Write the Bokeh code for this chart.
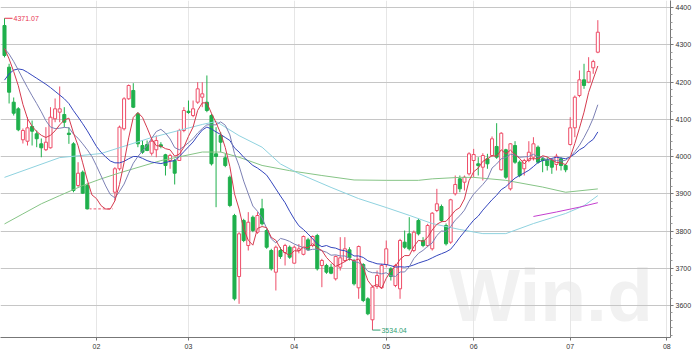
from bokeh.plotting import figure
from bokeh.models import FixedTicker, Range1d, Label, ColumnDataSource
from bokeh.embed import file_html
from bokeh.resources import INLINE

# ---------------- data ----------------
opens = [4351.7, 4239.7, 4145.8, 4128.0, 4044.9, 4041.0, 4080.6, 4061.0, 4034.0, 4018.2,
         4023.4, 4101.2, 4119.0, 4112.8, 4062.6, 4034.0, 3922.2, 3957.8, 3922.2, 3859.4,
         3859.4, 3859.4, 3859.4, 3859.4, 3904.2, 3967.0, 4074.4, 4154.9, 4177.2, 4114.6,
         4029.5, 4032.2, 4008.8, 4018.0, 4031.4, 4004.6, 3989.3, 3989.3, 3989.3, 4069.8,
         4121.6, 4110.1, 4145.8, 4159.2, 4145.8, 4110.1, 4007.2, 4056.4, 3996.5, 3944.4,
         3841.6, 3677.8, 3828.2, 3761.0, 3837.0, 3796.8, 3859.6, 3801.3, 3747.6, 3689.4,
         3747.6, 3742.2, 3756.5, 3713.6, 3747.6, 3737.4, 3776.3, 3761.0, 3787.9, 3707.4,
         3707.4, 3702.8, 3671.6, 3702.8, 3720.8, 3749.4, 3718.9, 3647.5, 3710.1, 3618.0,
         3561.6, 3651.0, 3647.5, 3710.1, 3698.5, 3653.7, 3644.8, 3770.0, 3792.4, 3747.6,
         3828.2, 3774.5, 3761.0, 3752.2, 3855.0, 3865.8, 3814.8, 3770.0, 3899.9, 3940.1,
         3931.0, 3953.5, 3989.3, 3980.4, 3971.3, 3993.8, 4002.7, 4026.9, 3964.3, 4018.0,
         3913.2, 4029.5, 3984.7, 3967.0, 3989.3, 3998.2, 4025.0, 3993.8, 3991.2, 3989.3,
         3978.5, 3993.8, 3975.8, 4032.2, 4077.0, 4163.8, 4205.9, 4199.5, 4238.0, 4280.0]
highs = [4371.07, 4248.9, 4158.4, 4132.4, 4075.2, 4105.5, 4096.6, 4069.8, 4048.3, 4078.7,
         4132.4, 4155.7, 4188.0, 4132.4, 4078.7, 4038.4, 3984.7, 3962.4, 3927.5, 3859.4,
         3859.4, 3859.4, 3859.4, 3859.4, 3971.3, 4083.0, 4159.2, 4193.3, 4196.8, 4118.9,
         4043.0, 4043.0, 4051.8, 4056.4, 4038.4, 4007.2, 4007.2, 3993.8, 4074.4, 4132.4,
         4150.3, 4150.3, 4199.5, 4199.5, 4217.5, 4114.6, 4078.7, 4065.2, 4007.2, 3949.0,
         3846.1, 3796.8, 3832.7, 3850.6, 3841.6, 3850.6, 3886.4, 3805.9, 3752.2, 3761.0,
         3756.5, 3765.6, 3761.0, 3761.0, 3765.0, 3787.9, 3781.7, 3787.9, 3792.4, 3725.3,
         3711.9, 3711.9, 3734.2, 3783.4, 3783.4, 3756.5, 3725.3, 3761.0, 3713.6, 3622.3,
         3653.7, 3693.9, 3711.9, 3774.5, 3702.8, 3711.9, 3779.0, 3801.3, 3837.1, 3801.3,
         3832.7, 3783.4, 3819.3, 3850.6, 3913.2, 3871.1, 3820.1, 3886.4, 3949.0, 3949.0,
         3949.0, 4011.5, 4020.5, 3998.2, 4008.8, 4007.2, 4053.7, 4089.4, 4065.2, 4020.7,
         4035.8, 4041.1, 3989.3, 3993.8, 4041.1, 4051.8, 4029.5, 3998.2, 3998.2, 3993.8,
         4007.2, 3998.2, 3980.4, 4105.5, 4163.8, 4230.9, 4248.9, 4266.6, 4259.6, 4366.0]
lows = [4266.0, 4142.3, 4110.0, 4067.9, 4034.9, 4029.5, 4029.5, 4025.0, 3998.0, 4014.6,
        4021.5, 4092.0, 4092.0, 4078.7, 4034.0, 3904.0, 3917.6, 3899.9, 3858.0, 3859.4,
        3859.4, 3859.4, 3859.4, 3859.4, 3881.9, 3962.4, 4069.8, 4152.2, 4130.0, 4025.0,
        4007.2, 4014.3, 4002.5, 3998.0, 4022.0, 3949.0, 3967.0, 3924.9, 3989.0, 4065.2,
        4114.6, 4105.5, 4141.4, 4132.4, 4118.9, 3975.8, 3863.9, 4011.5, 3971.3, 3863.9,
        3613.4, 3604.5, 3770.0, 3747.6, 3796.8, 3792.4, 3814.8, 3752.2, 3693.9, 3640.3,
        3725.3, 3707.4, 3725.3, 3711.9, 3740.0, 3734.7, 3747.6, 3756.5, 3693.9, 3649.2,
        3685.0, 3684.0, 3667.1, 3693.9, 3716.3, 3720.8, 3653.7, 3618.0, 3609.0, 3574.0,
        3534.04, 3644.8, 3644.8, 3702.8, 3667.1, 3649.2, 3618.0, 3752.2, 3747.6, 3743.1,
        3788.0, 3756.5, 3756.5, 3747.6, 3850.6, 3823.7, 3761.0, 3765.6, 3895.3, 3904.2,
        3908.7, 3949.0, 3944.4, 3949.0, 3935.6, 3967.0, 4000.0, 3993.8, 3962.4, 3940.0,
        3908.7, 3980.4, 3944.4, 3949.0, 3984.7, 3989.3, 3980.4, 3957.8, 3962.4, 3953.5,
        3962.4, 3962.4, 3957.8, 4029.5, 4051.8, 4159.2, 4181.7, 4196.8, 4222.0, 4277.3]
closes = [4271.1, 4172.6, 4116.2, 4071.7, 4069.8, 4077.0, 4067.9, 4047.6, 4023.4, 4038.4,
          4105.5, 4128.0, 4128.0, 4092.1, 4059.0, 3908.7, 3955.2, 3901.5, 3859.4, 3859.4,
          3859.4, 3859.4, 3859.4, 3859.4, 3967.0, 4078.7, 4154.9, 4190.6, 4132.4, 4034.1,
          4011.5, 4016.1, 4041.1, 4043.0, 4026.9, 3975.8, 4002.7, 3955.2, 4069.8, 4123.5,
          4118.1, 4128.0, 4181.7, 4168.3, 4123.5, 3980.4, 4000.0, 4038.4, 3975.8, 3868.5,
          3617.9, 3792.4, 3774.5, 3823.6, 3801.3, 3841.6, 3819.3, 3756.5, 3698.5, 3756.5,
          3731.5, 3761.0, 3729.7, 3756.5, 3752.0, 3785.2, 3749.4, 3785.2, 3698.5, 3720.8,
          3689.4, 3686.7, 3731.5, 3728.0, 3752.2, 3728.0, 3658.2, 3758.4, 3613.4, 3577.7,
          3649.2, 3680.5, 3707.4, 3752.2, 3677.8, 3707.4, 3774.5, 3756.5, 3752.2, 3796.8,
          3792.4, 3761.0, 3814.8, 3847.8, 3873.0, 3828.2, 3765.6, 3883.8, 3924.9, 3913.2,
          3944.4, 4007.2, 4005.4, 3975.8, 4002.7, 3980.4, 4047.5, 3998.2, 4062.5, 3944.4,
          4034.1, 3984.7, 3949.0, 3989.3, 4011.5, 4034.1, 3984.7, 3989.3, 3975.8, 3971.3,
          4000.8, 3975.8, 3964.3, 4077.0, 4159.2, 4205.9, 4190.6, 4228.2, 4254.9, 4333.7]
suspended = [19, 20, 21, 22, 23]

ma5 = [4290, 4262, 4228, 4190, 4140, 4102, 4081, 4067, 4057, 4051, 4057, 4069, 4085, 4098, 4103,
       4063, 4029, 3983, 3937, 3897, 3887, 3868, 3859, 3859, 3881, 3925, 3984, 4050, 4105, 4118,
       4105, 4077, 4047, 4029, 4028, 4021, 4018, 4001, 4006, 4025, 4054, 4079, 4124, 4144, 4144,
       4116, 4091, 4062, 4024, 3973, 3900, 3859, 3806, 3775, 3762, 3807, 3812, 3809, 3783, 3775,
       3753, 3741, 3735, 3747, 3746, 3757, 3755, 3766, 3754, 3748, 3729, 3716, 3705, 3711, 3718,
       3725, 3720, 3725, 3702, 3667, 3651, 3656, 3646, 3673, 3693, 3705, 3724, 3734, 3734, 3758,
       3775, 3772, 3783, 3803, 3818, 3825, 3826, 3840, 3855, 3863, 3886, 3935, 3959, 3969, 3987,
       3994, 4002, 4001, 4018, 4007, 4017, 4005, 3995, 3980, 3994, 3994, 3994, 4002, 3999, 3991,
       3984, 3983, 3978, 3998, 4035, 4076, 4119, 4172, 4208, 4243]
ma10 = [4290, 4275, 4255, 4232, 4208, 4185, 4163, 4142, 4120, 4096, 4079, 4075, 4076, 4078, 4077,
        4060, 4049, 4034, 4018, 4000, 3975, 3948, 3921, 3898, 3889, 3906, 3926, 3955, 3982, 4000,
        4015, 4030, 4049, 4067, 4073, 4063, 4047, 4024, 4018, 4027, 4037, 4048, 4063, 4075, 4085,
        4085, 4085, 4093, 4084, 4058, 4008, 3975, 3934, 3900, 3867, 3853, 3835, 3807, 3779, 3768,
        3780, 3777, 3772, 3765, 3760, 3755, 3748, 3751, 3751, 3747, 3743, 3735, 3736, 3733, 3733,
        3727, 3718, 3715, 3707, 3692, 3688, 3688, 3685, 3688, 3680, 3678, 3690, 3690, 3704, 3726,
        3740, 3748, 3759, 3768, 3788, 3800, 3799, 3812, 3829, 3841, 3856, 3880, 3899, 3912, 3925,
        3940, 3969, 3980, 3994, 3997, 4006, 4004, 3998, 3999, 4000, 4006, 3999, 3998, 3990, 3992,
        3989, 3988, 3990, 3999, 4013, 4030, 4051, 4075, 4103, 4139]
ma20 = [4205, 4222, 4232, 4235, 4233, 4226, 4218, 4210, 4202, 4194, 4185, 4175, 4165, 4155, 4142,
        4123, 4106, 4088, 4069, 4048, 4027, 4011, 3999, 3988, 3983, 3983, 3987, 3994, 4000, 4000,
        3995, 3989, 3985, 3983, 3981, 3984, 3987, 3989, 4000, 4013, 4026, 4039, 4056, 4071, 4079,
        4074, 4066, 4059, 4051, 4043, 4023, 4012, 3998, 3987, 3976, 3969, 3960, 3950, 3932, 3913,
        3894, 3876, 3853, 3832, 3814, 3804, 3792, 3779, 3765, 3758, 3761, 3756, 3754, 3749, 3747,
        3741, 3733, 3733, 3729, 3720, 3716, 3712, 3711, 3710, 3707, 3703, 3704, 3703, 3705, 3709,
        3714, 3718, 3722, 3728, 3734, 3739, 3744, 3751, 3766, 3783, 3798, 3814, 3829, 3840, 3856,
        3870, 3884, 3896, 3911, 3919, 3931, 3942, 3949, 3956, 3963, 3973, 3984, 3989, 3992, 3995,
        3998, 3996, 3994, 3999, 4007, 4018, 4025, 4037, 4046, 4066]
ma60_idx = [0, 12, 21, 32, 43, 46, 51, 56, 60, 64, 71, 77, 83, 88, 93, 99, 104, 109, 115, 122, 126, 129]
ma60_val = [3944, 3997, 4008, 4051, 4086, 4094, 4056, 4025, 3980, 3954, 3917, 3887, 3863, 3842,
            3820, 3804, 3793, 3793, 3820, 3847, 3868, 3895]
ma120_idx = [0, 4, 8, 12, 17, 21, 25, 34, 43, 47, 51, 56, 62, 69, 76, 83, 90, 93, 99, 102, 109, 117, 122, 129]
ma120_val = [3819, 3846, 3873, 3895, 3922, 3940, 3956, 3989, 4012, 4012, 3998, 3976, 3962, 3949,
             3937, 3936, 3936, 3940, 3944, 3944, 3936, 3918, 3904, 3913]
ma250_idx = [115, 120, 125, 129]
ma250_val = [3839, 3851, 3864, 3876]

month_ticks = [20, 40, 63, 83, 102, 123, 144]
month_labels = ["02", "03", "04", "05", "06", "07", "08"]
price_ticks = [3600, 3700, 3800, 3900, 4000, 4100, 4200, 4300, 4400]

# ---------------- styles ----------------
RED = "#ee4d68"
GREEN = "#1fb04c"
FONT = "Liberation Sans"
HGRID = "#c6c6c6"
VGRID = "#e6e6e6"

n = len(closes)
trade = [i for i in range(n) if i not in suspended]
up = [i for i in trade if closes[i] >= opens[i]]
dn = [i for i in trade if closes[i] < opens[i]]

def src(ids):
    return ColumnDataSource(dict(
        x=ids,
        hi=[highs[i] for i in ids],
        lo=[lows[i] for i in ids],
        top=[max(opens[i], closes[i]) for i in ids],
        bot=[min(opens[i], closes[i]) for i in ids],
    ))

x_range = Range1d(-0.87, 144.8)
y_range = Range1d(3514.1, 4418.8)
p = figure(frame_width=670, frame_height=337, x_range=x_range, y_range=y_range,
           output_backend="svg", toolbar_location=None, y_axis_location="right",
           min_border_left=0, min_border_top=0, min_border_right=23, min_border_bottom=15,
           outline_line_color=None, background_fill_color="white")

# watermark, kept fully inside the frame, beneath the grid
wm = Label(x=96.7, y=y_range.start + 1.5, text="Win.d", text_font=FONT,
           text_font_style="bold", text_font_size="75px", text_color="#f1f1f1",
           text_baseline="bottom", level="image")
p.add_layout(wm)

# grids
p.ygrid.ticker = FixedTicker(ticks=price_ticks)
p.ygrid.grid_line_color = HGRID
p.xgrid.ticker = FixedTicker(ticks=month_ticks)
p.xgrid.grid_line_color = VGRID

# suspension dashes
p.segment(x0=[i - 0.5 for i in suspended], x1=[i + 0.5 for i in suspended],
          y0=[closes[i] for i in suspended], y1=[closes[i] for i in suspended],
          line_color=RED, line_dash="2 2", line_width=1)

# candles
su, sd = src(up), src(dn)
p.segment(x0="x", x1="x", y0="hi", y1="lo", source=su, line_color=RED, line_width=1)
p.segment(x0="x", x1="x", y0="hi", y1="lo", source=sd, line_color=GREEN, line_width=1)
p.vbar(x="x", width=0.66, top="top", bottom="bot", source=su,
       fill_color="white", line_color=RED, line_width=1)
p.vbar(x="x", width=0.66, top="top", bottom="bot", source=sd,
       fill_color=GREEN, line_color=GREEN, line_width=1)

# moving averages
xs = list(range(n))
p.line(ma120_idx, ma120_val, line_color="#86c486", line_width=1)
p.line(ma60_idx, ma60_val, line_color="#8fd2df", line_width=1)
p.line(ma250_idx, ma250_val, line_color="#c43fcf", line_width=1)
p.line(xs, ma20, line_color="#3446bd", line_width=1)
p.line(xs, ma10, line_color="#7c80b4", line_width=1)
p.line(xs, ma5, line_color="#d53a4e", line_width=1)

# max / min markers
i_max = max(range(n), key=lambda i: highs[i])
i_min = min(range(n), key=lambda i: lows[i])
p.ray(x=[i_max], y=[highs[i_max]], length=8, length_units="screen", angle=0,
      line_color="#e8354f", line_width=1)
p.add_layout(Label(x=i_max, y=highs[i_max], x_offset=9, text=f"{highs[i_max]:.2f}",
                   text_font=FONT, text_font_size="7px", text_color="#e8354f",
                   text_baseline="middle"))
p.ray(x=[i_min], y=[lows[i_min]], length=8, length_units="screen", angle=0,
      line_color="#2f9e72", line_width=1)
p.add_layout(Label(x=i_min, y=lows[i_min], x_offset=9, text=f"{lows[i_min]:.2f}",
                   text_font=FONT, text_font_size="7px", text_color="#2f9e72",
                   text_baseline="middle"))

# axes
ya = p.yaxis[0]
ya.ticker = FixedTicker(ticks=price_ticks,
                        minor_ticks=[v for v in range(3520, 4420, 20) if v % 100])
ya.axis_line_color = "#777777"
ya.major_tick_line_color = "#777777"
ya.minor_tick_line_color = "#999999"
ya.major_tick_in = 0
ya.major_tick_out = 3
ya.minor_tick_in = 0
ya.minor_tick_out = 2
ya.major_label_standoff = 2
ya.major_label_text_font = FONT
ya.major_label_text_font_size = "7px"
ya.major_label_text_color = "#333333"

xa = p.xaxis[0]
xa.ticker = FixedTicker(ticks=month_ticks)
xa.major_label_overrides = {t: l for t, l in zip(month_ticks, month_labels)}
xa.axis_line_color = "#777777"
xa.major_tick_line_color = "#777777"
xa.minor_tick_line_color = None
xa.major_tick_in = 0
xa.major_tick_out = 3
xa.major_label_standoff = 3
xa.major_label_text_font = FONT
xa.major_label_text_font_size = "7px"
xa.major_label_text_color = "#333333"

open("out.html", "w").write(file_html(p, INLINE))
